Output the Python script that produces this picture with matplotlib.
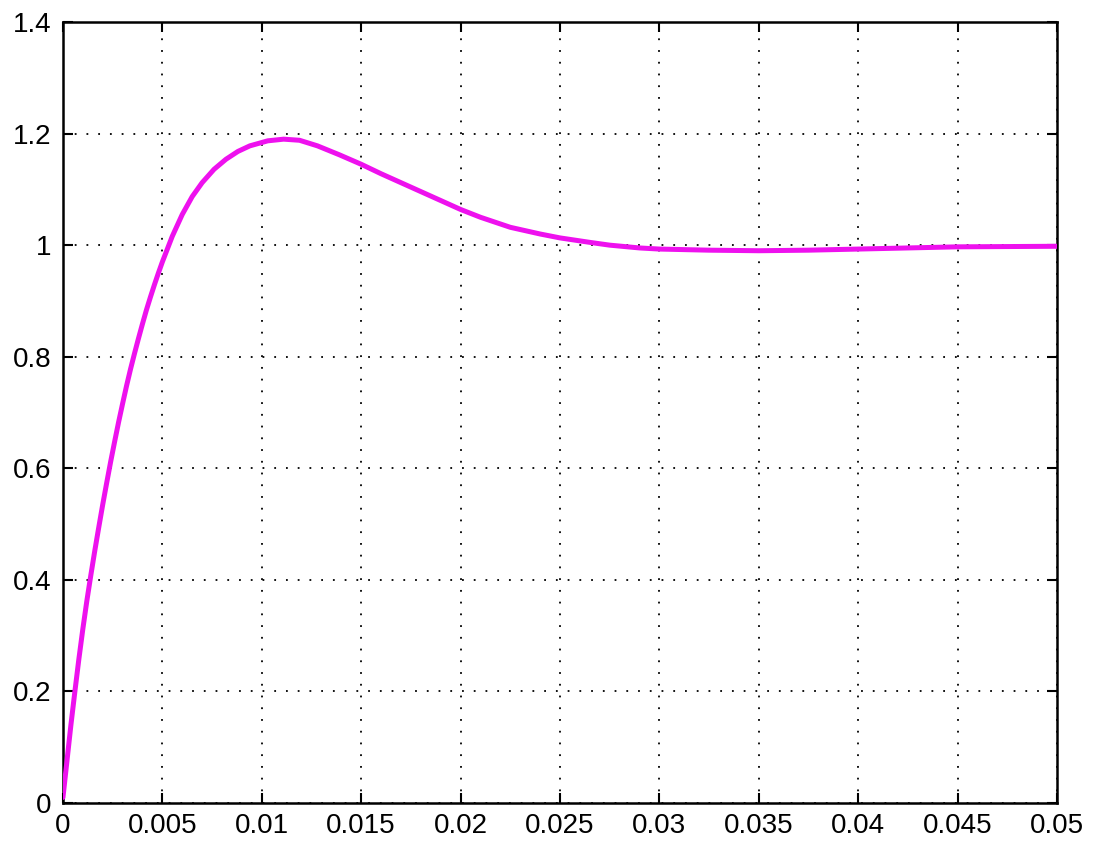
import numpy as np
import matplotlib.pyplot as plt

# step response
t = [0, 0.0002, 0.0004, 0.0006, 0.0008, 0.001, 0.0012, 0.0014, 0.0016,
     0.0018, 0.002, 0.0022, 0.0024, 0.0026, 0.0028, 0.003, 0.0032,
     0.0034, 0.0036, 0.0038, 0.004, 0.0042, 0.0044, 0.0046, 0.0048,
     0.005, 0.0055, 0.006, 0.0065, 0.007, 0.0076, 0.0082, 0.0088, 0.0094,
     0.0103, 0.0111, 0.0119, 0.0128, 0.0139, 0.015, 0.016, 0.017, 0.0185,
     0.02, 0.021, 0.0225, 0.024, 0.025, 0.0265, 0.0275, 0.029, 0.03,
     0.0325, 0.035, 0.0375, 0.04, 0.045, 0.05]
y = [0.01, 0.075, 0.14, 0.2, 0.258, 0.312, 0.362, 0.408, 0.452,
     0.494, 0.535, 0.574, 0.612, 0.648, 0.683, 0.716, 0.748,
     0.778, 0.806, 0.833, 0.859, 0.884, 0.907, 0.929, 0.95,
     0.97, 1.016, 1.055, 1.087, 1.112, 1.136, 1.154, 1.168, 1.178,
     1.187, 1.19, 1.188, 1.178, 1.162, 1.145, 1.128, 1.112, 1.088,
     1.064, 1.05, 1.032, 1.02, 1.013, 1.005, 1.0, 0.995, 0.993,
     0.991, 0.99, 0.991, 0.993, 0.997, 0.998]

xticks = np.arange(0, 0.0501, 0.005)
yticks = np.arange(0, 1.41, 0.2)
xlabels = ['0', '0.005', '0.01', '0.015', '0.02', '0.025', '0.03',
           '0.035', '0.04', '0.045', '0.05']
ylabels = ['0', '0.2', '0.4', '0.6', '0.8', '1', '1.2', '1.4']

plt.rcParams['font.family'] = ['Liberation Sans', 'DejaVu Sans']

fig = plt.figure(figsize=(10.93, 8.43), dpi=100)
ax = fig.add_axes([0.0576, 0.0474, 0.9095, 0.9265])

ax.plot(t, y, color='#ee11ee', lw=3.6, solid_capstyle='round',
        solid_joinstyle='round', zorder=3)

ax.set_xlim(0, 0.05)
ax.set_ylim(0, 1.4)
ax.set_xticks(xticks)
ax.set_xticklabels(xlabels)
ax.set_yticks(yticks)
ax.set_yticklabels(ylabels)

ax.grid(True, color='black', linestyle=(0, (1, 5.5)), lw=1.3)
ax.tick_params(direction='in', length=7, width=1.5, labelsize=20,
               top=True, right=True, pad=8)
ax.tick_params(axis='x', pad=7)
for s in ax.spines.values():
    s.set_linewidth(1.8)

plt.savefig('out.png', dpi=100)
